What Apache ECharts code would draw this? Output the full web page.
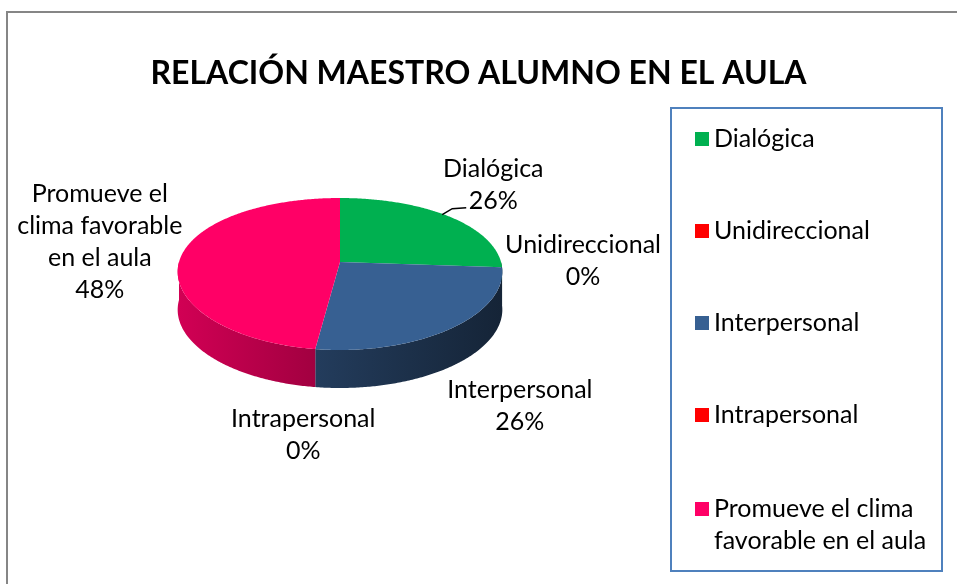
<!DOCTYPE html>
<html><head><meta charset="utf-8">
<script src="https://cdn.jsdelivr.net/npm/echarts@6/dist/echarts.min.js"></script>
<style>html,body{margin:0;padding:0;background:#fff}#c{width:957px;height:584px}</style>
</head><body><div id="c"></div>
<script>
// ---- data ----
const chartTitle = 'RELACIÓN MAESTRO ALUMNO EN EL AULA';
const categories = ['Dialógica', 'Unidireccional', 'Interpersonal', 'Intrapersonal', 'Promueve el clima favorable en el aula'];
const values = [6, 0, 6, 0, 11];
const sliceLabels = ['Dialógica', 'Unidireccional', 'Interpersonal', 'Intrapersonal', 'Promueve el\nclima favorable\nen el aula'];
const legendLabels = ['Dialógica', 'Unidireccional', 'Interpersonal', 'Intrapersonal', 'Promueve el clima\nfavorable en el aula'];
const colors = ['#00B050', '#FF0000', '#376092', '#FF0000', '#FF0066'];

// ---- layout (not data) ----
const geo = { cx: 340, cy: 262, rx: 161, a: 76, b: 12, c: 0.13, depth: 38 };
const labelOffsets = [[46, -31, true], [81, -6, false], [68, 78, false], [-12, 86, false], [-81, -15, false]];
const FONT = 'Lato, "Open Sans", sans-serif';

const total = values.reduce((s, v) => s + v, 0);
const starts = [], ends = [];
let acc = 0;
values.forEach(v => { starts.push(acc / total * 2 * Math.PI); acc += v; ends.push(acc / total * 2 * Math.PI); });

function P(t, h) {
  const s = Math.sin(t), v = -Math.cos(t);
  return [geo.cx + geo.rx * s * (1 + geo.c * v), geo.cy + geo.a * v + geo.b * v * v + (h || 0)];
}
function arc(t0, t1, h) {
  const n = Math.max(2, Math.ceil((t1 - t0) / 0.01));
  const pts = [];
  for (let k = 0; k <= n; k++) pts.push(P(t0 + (t1 - t0) * k / n, h));
  return pts;
}
function shade(hex, f) {
  const r = parseInt(hex.slice(1, 3), 16), g = parseInt(hex.slice(3, 5), 16), b = parseInt(hex.slice(5, 7), 16);
  return 'rgb(' + Math.round(r * f) + ',' + Math.round(g * f) + ',' + Math.round(b * f) + ')';
}

function renderItem(params, api) {
  const i = params.dataIndex;
  const children = [];
  const t0 = starts[i], t1 = ends[i];
  if (t1 > t0) {
    const s0 = Math.max(t0, Math.PI / 2), e0 = Math.min(t1, 3 * Math.PI / 2);
    if (e0 > s0) {
      const pts = arc(s0, e0, 0).concat(arc(s0, e0, geo.depth).reverse());
      children.push({
        type: 'polygon', z2: 1,
        shape: { points: pts },
        style: {
          fill: new echarts.graphic.LinearGradient(geo.cx - geo.rx, 0, geo.cx + geo.rx, 0, [
            { offset: 0, color: shade(colors[i], 0.82) },
            { offset: 0.43, color: shade(colors[i], 0.63) },
            { offset: 1, color: shade(colors[i], 0.38) }
          ], true),
          stroke: null
        }
      });
    }
    const top = [[geo.cx, geo.cy]].concat(arc(t0, t1, 0));
    children.push({
      type: 'polygon', z2: 10,
      shape: { points: top },
      style: { fill: colors[i], stroke: null }
    });
  }
  const mid = (t0 + t1) / 2;
  const an = P(mid, 0);
  const off = labelOffsets[i];
  const pct = Math.round(api.value(0) / total * 100) + '%';
  children.push({
    type: 'text', z2: 20,
    x: an[0] + off[0], y: an[1] + off[1],
    style: {
      text: sliceLabels[i] + '\n' + pct,
      fill: '#000', font: '25px ' + FONT,
      align: 'center', verticalAlign: 'middle', lineHeight: 32
    }
  });
  if (off[2]) {
    children.push({
      type: 'polyline', z2: 20,
      shape: { points: [[an[0] - 5, an[1] - 1], [an[0] + 5, an[1] - 7], [an[0] + 19, an[1] - 8]] },
      style: { stroke: '#000', lineWidth: 1.5, fill: null }
    });
  }
  return { type: 'group', children: children };
}

const legendCommon = {
  orient: 'vertical', left: 690, height: 600,
  itemWidth: 14, itemHeight: 14, itemGap: 64, icon: 'rect',
  selectedMode: false,
  formatter: n => legendLabels[categories.indexOf(n)]
};

const chart = echarts.init(document.getElementById('c'), null, { renderer: 'canvas' });
chart.setOption({
  animation: false,
  backgroundColor: '#fff',
  title: {
    text: chartTitle, left: 'center', top: 49,
    textStyle: { fontFamily: FONT, fontWeight: 'bold', fontSize: 32, color: '#000', lineHeight: 40 }
  },
  legend: [
    Object.assign({}, legendCommon, {
      top: 120,
      textStyle: { fontFamily: FONT, fontSize: 25, color: '#000', lineHeight: 28 },
      data: categories.slice(0, 4)
    }),
    Object.assign({}, legendCommon, {
      top: 456,
      textStyle: { fontFamily: FONT, fontSize: 25, color: '#000', lineHeight: 32 },
      data: categories.slice(4),
      formatter: n => '\n' + legendLabels[categories.indexOf(n)]
    })
  ],
  graphic: [
    { type: 'rect', shape: { x: 7, y: 12, width: 1000, height: 1000 }, style: { fill: 'none', stroke: '#868686', lineWidth: 2 }, silent: true },
    { type: 'rect', shape: { x: 671, y: 108, width: 271, height: 463 }, style: { fill: 'none', stroke: '#4F81BD', lineWidth: 2 }, silent: true }
  ],
  series: [
    {
      type: 'pie', radius: [0, 0], center: [340, 262], silent: true,
      label: { show: false }, labelLine: { show: false },
      data: categories.map((n, i) => ({ name: n, value: values[i], itemStyle: { color: colors[i] } }))
    },
    {
      type: 'custom', coordinateSystem: 'none', silent: true,
      renderItem: renderItem,
      data: values.map(v => [v])
    }
  ]
});
</script></body></html>
